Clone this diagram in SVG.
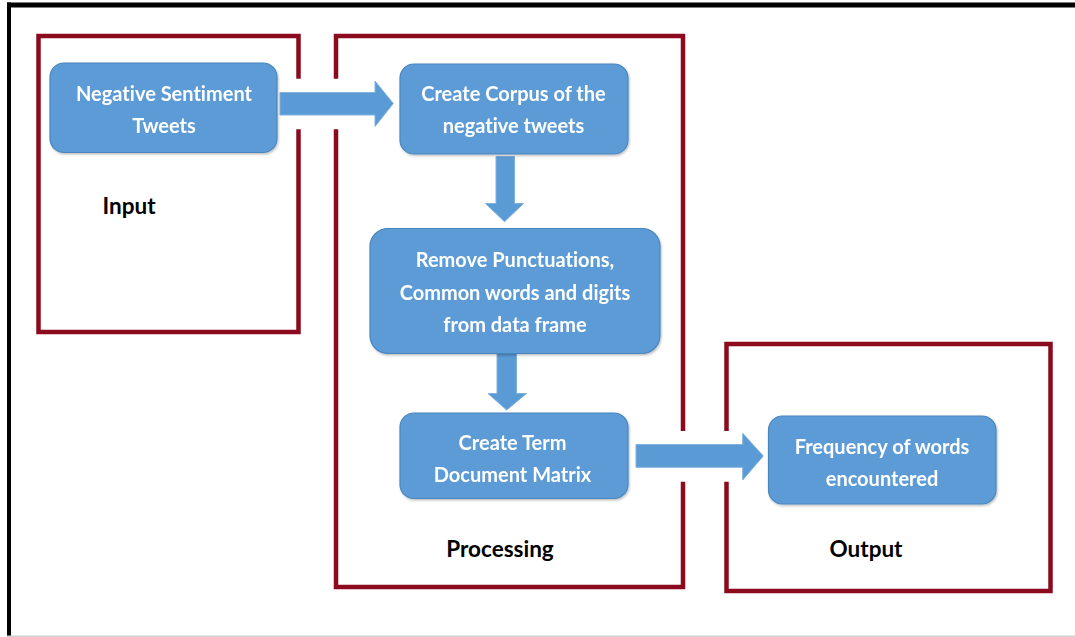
<svg xmlns="http://www.w3.org/2000/svg" width="1075" height="637" viewBox="0 0 1075 637">
  <style>
    .frame { fill: none; stroke: #8b0a1e; stroke-width: 4.5; stroke-linecap: butt; stroke-linejoin: miter; }
    .node rect { fill: #5b9bd5; stroke: #4a86bd; stroke-width: 1.2; }
    .node text { fill: #ffffff; font-family: Lato, "Open Sans", "Liberation Sans", sans-serif; font-weight: bold; font-size: 20px; text-anchor: middle; font-variant-ligatures: none; }
    .label { fill: #000000; font-family: Lato, "Open Sans", "Liberation Sans", sans-serif; font-weight: bold; font-size: 22.5px; text-anchor: middle; font-variant-ligatures: none; }
    .arrow { fill: #5b9bd5; stroke: #7fb1df; stroke-width: 1; }
  </style>
  <defs>
    <filter id="soft" x="-5%" y="-5%" width="115%" height="120%">
      <feDropShadow dx="1" dy="1.5" stdDeviation="1.2" flood-color="#000" flood-opacity="0.25"/>
    </filter>
  </defs>

  <rect width="1075" height="637" fill="#ffffff"/>

  <!-- page border -->
  <g id="page-border">
    <rect x="7" y="2.5" width="1068" height="5" fill="#000"/>
    <rect x="7" y="2.5" width="4" height="634" fill="#000"/>
    <rect x="7" y="635.5" width="1068" height="1.5" fill="#cfcfcf"/>
  </g>

  <!-- stage frames (broken where the arrows cross) -->
  <g id="stage-frames">
    <path id="frame-input" class="frame" d="M298.5 78.7 V36 H38.5 V332 H298.5 V129.3"/>
    <path id="frame-processing" class="frame" d="M336 129.3 V587 H683 V481.7 M683 431 V36 H336 V78.7"/>
    <path id="frame-output" class="frame" d="M726.5 431 V344 H1050.5 V591 H726.5 V481.7"/>
  </g>

  <!-- stage labels -->
  <text id="label-input" class="label" x="129" y="214">Input</text>
  <text id="label-processing" class="label" x="500" y="557">Processing</text>
  <text id="label-output" class="label" x="866" y="557">Output</text>

  <!-- connectors -->
  <g id="connectors">
    <path class="arrow" d="M280 92.5 H375 V81 L393.3 103.5 L375 126.5 V115 H280 Z"/>
    <path class="arrow" d="M496 156.5 H514.5 V203.5 H523.5 L504.5 221.7 L485.5 203.5 H496 Z"/>
    <path class="arrow" d="M497 353.5 H516.5 V393.5 H526.5 L506.7 410 L488 393.5 H497 Z"/>
    <path class="arrow" d="M636 444.5 H742.7 V433.3 L763.3 456 L742.7 480 V467.3 H636 Z"/>
  </g>

  <!-- process nodes -->
  <g id="node-tweets" class="node" filter="url(#soft)">
    <rect x="50" y="63" width="227" height="89.5" rx="14"/>
    <text x="164" y="101">Negative Sentiment</text>
    <text x="164" y="133">Tweets</text>
  </g>

  <g id="node-corpus" class="node" filter="url(#soft)">
    <rect x="400" y="64" width="228" height="90" rx="14"/>
    <text x="513.5" y="101">Create Corpus of the</text>
    <text x="513.5" y="133">negative tweets</text>
  </g>

  <g id="node-clean" class="node" filter="url(#soft)">
    <rect x="370" y="228.5" width="290" height="125" rx="18"/>
    <text x="515" y="267">Remove Punctuations,</text>
    <text x="515" y="300">Common words and digits</text>
    <text x="515" y="332">from data frame</text>
  </g>

  <g id="node-tdm" class="node" filter="url(#soft)">
    <rect x="400" y="413" width="228" height="85.5" rx="14"/>
    <text x="512.5" y="450">Create Term</text>
    <text x="512.5" y="482">Document Matrix</text>
  </g>

  <g id="node-frequency" class="node" filter="url(#soft)">
    <rect x="768.5" y="416" width="227.5" height="88" rx="14"/>
    <text x="882" y="454">Frequency of words</text>
    <text x="882" y="486">encountered</text>
  </g>
</svg>
